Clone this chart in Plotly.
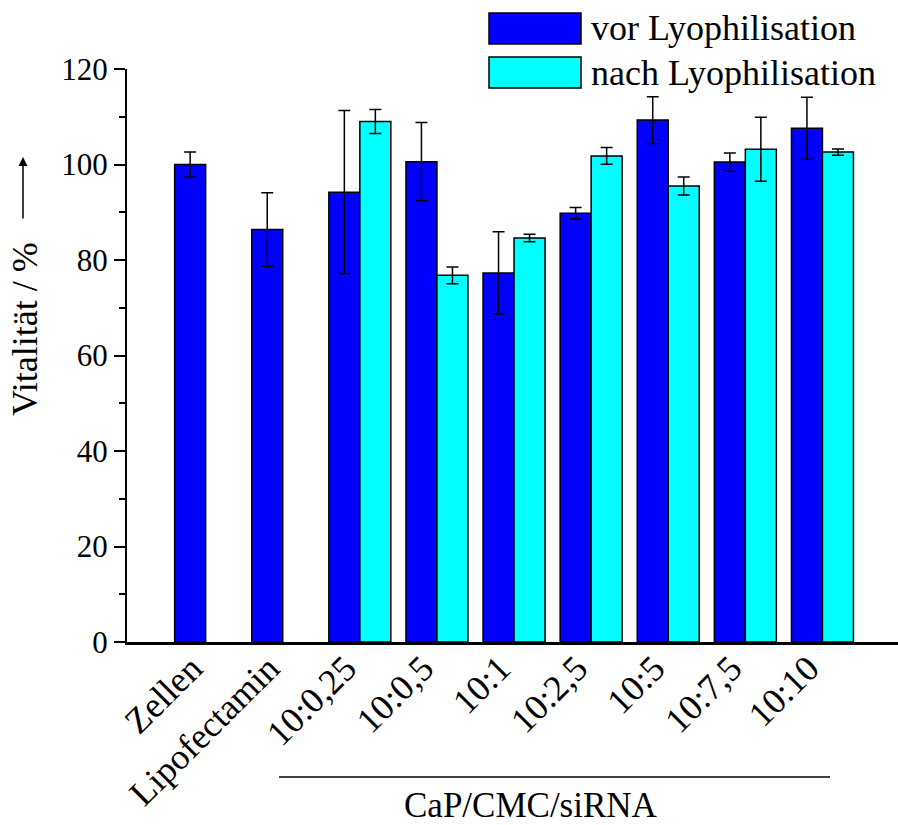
import plotly.graph_objects as go

# Samples and formulations (CaP/CMC/siRNA ratios)
categories = ["Zellen", "Lipofectamin", "10:0,25", "10:0,5", "10:1",
              "10:2,5", "10:5", "10:7,5", "10:10"]
series_names = ["vor Lyophilisation", "nach Lyophilisation"]

# Cell viability in % with standard deviations
vor_values = [100.0, 86.4, 94.2, 100.6, 77.3, 89.8, 109.3, 100.5, 107.6]
vor_errors = [2.6, 7.7, 17.1, 8.2, 8.6, 1.2, 4.9, 1.9, 6.5]
nach_values = [None, None, 109.0, 76.8, 84.6, 101.8, 95.5, 103.2, 102.6]
nach_errors = [None, None, 2.5, 1.75, 0.8, 1.75, 1.9, 6.7, 0.65]

series_colors = ["#0000FF", "#00FFFF"]

FONT = "'Liberation Serif', 'Times New Roman', Times, serif"
W, H = 898, 825
M_L, M_R, M_T, M_B = 127, 0, 69, 183
PW, PH = W - M_L - M_R, H - M_T - M_B


def px_x(x):
    return (x - M_L) / PW


def px_y(y):
    return (H - M_B - y) / PH


err_style = dict(type="data", color="black", thickness=1.5, width=6, visible=True)

fig = go.Figure()
fig.add_trace(go.Bar(
    x=categories, y=vor_values, name=series_names[0],
    marker=dict(color=series_colors[0], line=dict(color="black", width=1.5)),
    error_y=dict(array=vor_errors, **err_style),
    showlegend=False,
))
fig.add_trace(go.Bar(
    x=categories, y=nach_values, name=series_names[1],
    marker=dict(color=series_colors[1], line=dict(color="black", width=1.5)),
    error_y=dict(array=nach_errors, **err_style),
    showlegend=False,
))

# Legend drawn as boxes with labels at the top right
legend_rows = [(13, 44), (57, 88)]
for name, color, (top, bottom) in zip(series_names, series_colors, legend_rows):
    fig.add_shape(type="rect", xref="paper", yref="paper",
                  x0=px_x(489), x1=px_x(581), y0=px_y(bottom), y1=px_y(top),
                  fillcolor=color, line=dict(color="black", width=1.5))
    fig.add_annotation(xref="paper", yref="paper", x=px_x(589),
                       y=px_y((top + bottom) / 2), text=name, showarrow=False,
                       xanchor="left", yanchor="middle",
                       font=dict(family=FONT, size=36, color="black"))

# y axis title with upward arrow
fig.add_annotation(xref="paper", yref="paper", x=px_x(25), y=px_y(329),
                   text="Vitalität / %", textangle=-90, showarrow=False,
                   xanchor="center", yanchor="middle",
                   font=dict(family=FONT, size=36, color="black"))
fig.add_annotation(xref="paper", yref="paper", x=px_x(23), y=px_y(157),
                   text="", showarrow=True, ax=0, ay=63,
                   arrowhead=2, arrowsize=1.2, arrowwidth=1.5, arrowcolor="black")

# Group bracket for the CaP/CMC/siRNA formulations
fig.add_shape(type="line", xref="paper", yref="paper",
              x0=px_x(279), x1=px_x(830), y0=px_y(777), y1=px_y(777),
              line=dict(color="black", width=1.5))
fig.add_annotation(xref="paper", yref="paper", x=px_x(531), y=px_y(805),
                   text="CaP/CMC/siRNA", showarrow=False,
                   xanchor="center", yanchor="middle",
                   font=dict(family=FONT, size=35, color="black"))

fig.update_layout(
    width=W, height=H,
    margin=dict(l=M_L, r=M_R, t=M_T, b=M_B, pad=0),
    paper_bgcolor="white", plot_bgcolor="white",
    barmode="group", bargap=0.196, bargroupgap=0,
    font=dict(family=FONT, color="black"),
    xaxis=dict(
        type="category", range=[-1.02, 8.98],
        showline=True, linecolor="black", linewidth=2.5,
        ticks="", showgrid=False, zeroline=False,
        tickangle=-45, tickfont=dict(family=FONT, size=36, color="black"),
        ticklabelshift=-14, ticklabelstandoff=-12,
    ),
    yaxis=dict(
        range=[0, 120], dtick=20, tick0=0,
        showline=True, linecolor="black", linewidth=2,
        ticks="outside", ticklen=11, tickwidth=2, tickcolor="black",
        minor=dict(dtick=10, ticks="outside", ticklen=6, tickwidth=2, tickcolor="black"),
        showgrid=False, zeroline=False,
        tickfont=dict(family=FONT, size=31, color="black"),
    ),
)

fig.write_html("out.html")
